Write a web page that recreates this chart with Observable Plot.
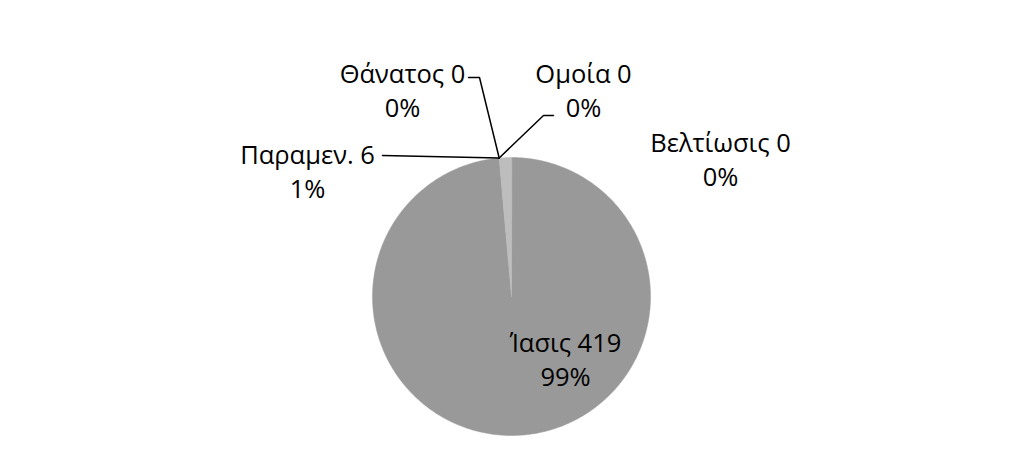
<!DOCTYPE html>
<html>
<head>
<meta charset="utf-8">
<script src="https://cdn.jsdelivr.net/npm/d3@7"></script>
<script src="https://cdn.jsdelivr.net/npm/@observablehq/plot@0.6"></script>
<style>
  html, body { margin: 0; padding: 0; background: #fff; }
  #chart svg { display: block; }
</style>
</head>
<body>
<div id="chart"></div>
<script>
// ---- data ----
const categories = ["Ίασις", "Βελτίωσις", "Ομοία", "Θάνατος", "Παραμεν."];
const counts = [419, 0, 0, 0, 6];
const percentLabels = ["99%", "0%", "0%", "0%", "1%"];
const sliceColors = ["#999999", "#a6a6a6", "#8c8c8c", "#808080", "#bdbdbd"];

// ---- layout (pixels) ----
const W = 1024, H = 455;
const cx = 511, cy = 296, r = 139;
const labelPos = {
  "Ίασις": [565, 358],
  "Βελτίωσις": [720, 158],
  "Ομοία": [583, 89],
  "Θάνατος": [402, 89],
  "Παραμεν.": [307, 170]
};
const leaderElbows = {
  "Ομοία": [[553, 115], [543, 115]],
  "Θάνατος": [[468, 77], [479, 77]],
  "Παραμεν.": [[382, 155]]
};

const rows = categories.map((c, i) => ({category: c, count: counts[i], pct: percentLabels[i], color: sliceColors[i]}));
const arcs = d3.pie().sort(null).value(d => d.count)(rows);

const pt = a => [cx + r * Math.sin(a), cy - r * Math.cos(a)];

// slice polygons
const slicePts = [];
arcs.forEach(a => {
  if (a.endAngle - a.startAngle <= 0) return;
  const n = Math.max(2, Math.ceil((a.endAngle - a.startAngle) / 0.01));
  slicePts.push({category: a.data.category, x: cx, y: cy});
  for (let k = 0; k <= n; k++) {
    const t = a.startAngle + (a.endAngle - a.startAngle) * k / n;
    const [x, y] = pt(t);
    slicePts.push({category: a.data.category, x, y});
  }
});

// leader lines
const leaderPts = [];
arcs.forEach(a => {
  const el = leaderElbows[a.data.category];
  if (!el) return;
  el.forEach(([x, y]) => leaderPts.push({category: a.data.category, x, y}));
  const [ex, ey] = pt(a.startAngle);
  leaderPts.push({category: a.data.category, x: ex, y: ey});
});

const labels = rows.map(d => ({
  x: labelPos[d.category][0],
  y: labelPos[d.category][1],
  text: `${d.category} ${d.count}\n${d.pct}`
}));

const plot = Plot.plot({
  width: W,
  height: H,
  margin: 0,
  x: {domain: [0, W], range: [0, W], axis: null},
  y: {domain: [0, H], range: [0, H], axis: null},
  color: {domain: categories, range: sliceColors},
  style: {fontFamily: "'Open Sans', 'Noto Sans', sans-serif", background: "#fff"},
  marks: [
    Plot.line(slicePts, {x: "x", y: "y", z: "category", fill: "category", stroke: "category", strokeWidth: 0.5, curve: "linear-closed"}),
    Plot.line(leaderPts, {x: "x", y: "y", z: "category", stroke: "#000", strokeWidth: 1.5}),
    Plot.text(labels, {x: "x", y: "y", text: "text", fontSize: 25.5, lineHeight: 1.33, fill: "#000", textAnchor: "middle", lineAnchor: "middle"})
  ]
});
document.getElementById("chart").appendChild(plot);
</script>
</body>
</html>
